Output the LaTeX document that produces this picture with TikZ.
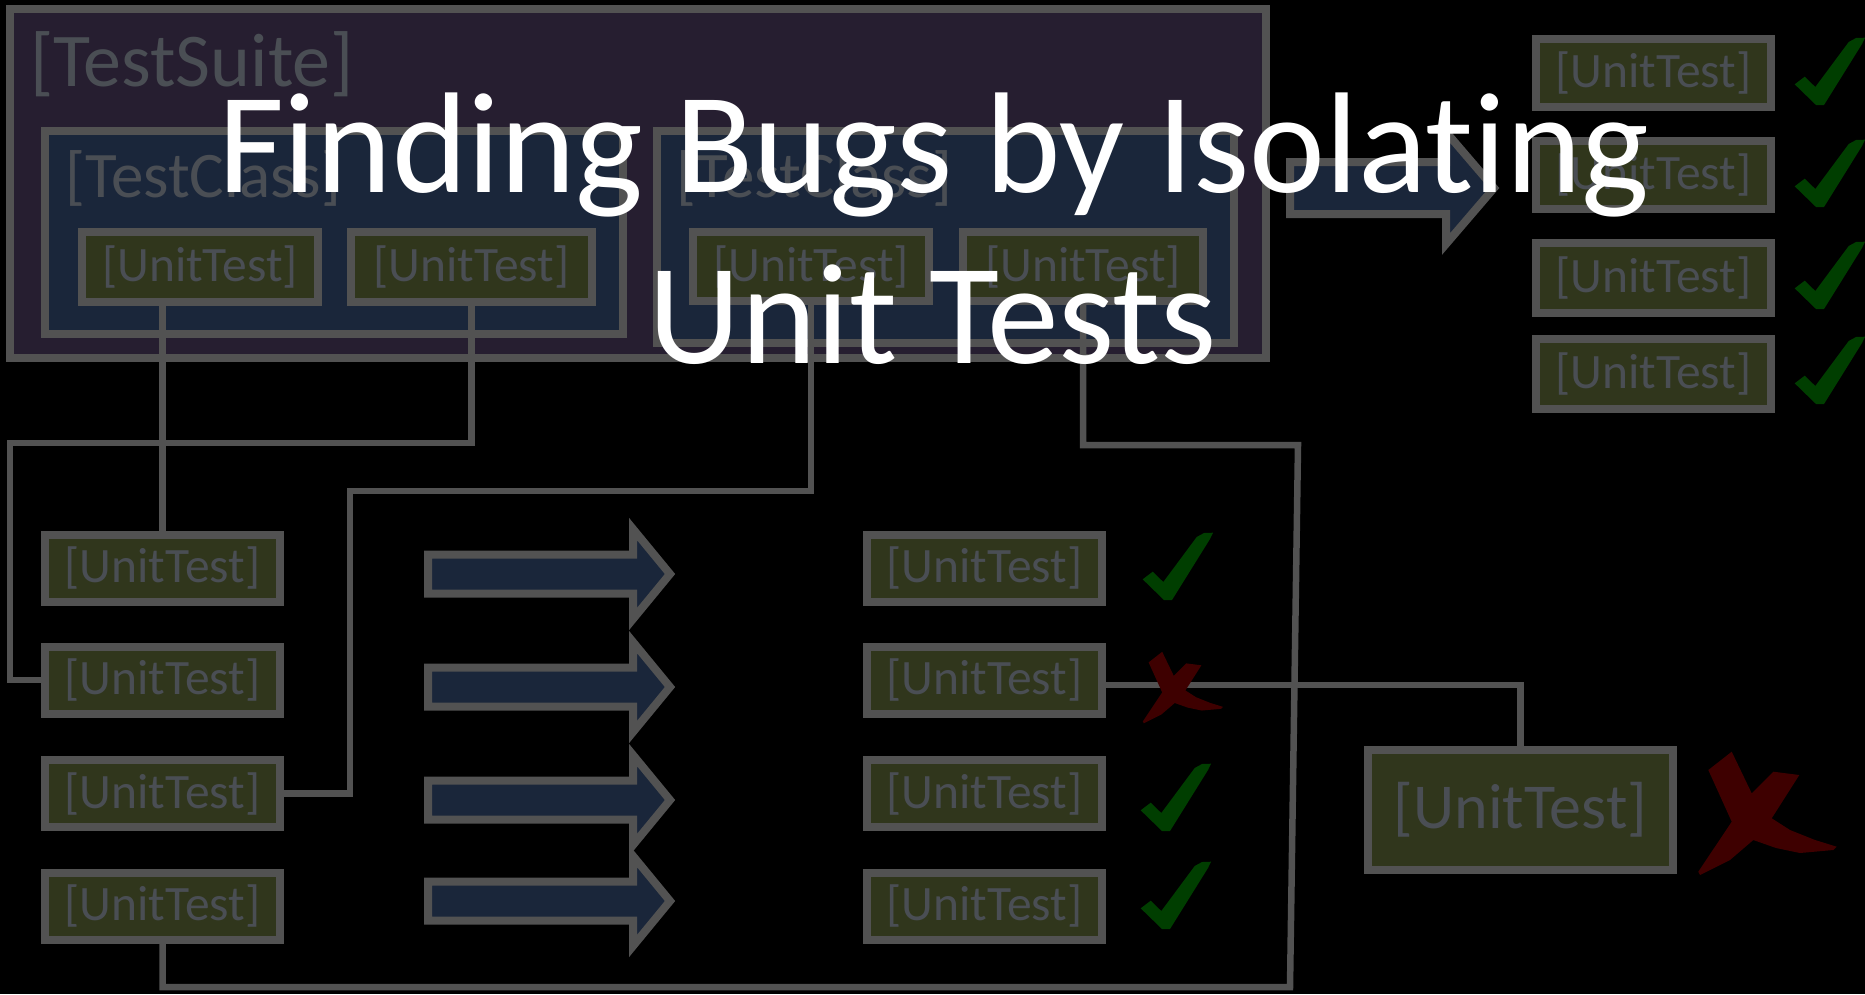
\documentclass[tikz,border=0pt]{standalone}
\usepackage{fontspec}
\setmainfont{Carlito}[Ligatures={NoCommon,NoRequired,NoContextual}]
\definecolor{edge}{RGB}{82,82,82}
\definecolor{suitefill}{RGB}{38,30,48}
\definecolor{classfill}{RGB}{26,38,58}
\definecolor{utfill}{RGB}{48,54,28}
\definecolor{labelgray}{RGB}{74,78,84}
\definecolor{passgreen}{RGB}{0,62,0}
\definecolor{failred}{RGB}{62,0,0}
\tikzset{
  box/.style={draw=edge, line width=8pt, inner sep=0pt},
  suitebox/.style={box, fill=suitefill},
  classbox/.style={box, fill=classfill},
  ut/.style={box, fill=utfill, text=labelgray,
    font=\fontsize{49.5}{52}\selectfont,
    minimum width=235pt, minimum height=67pt},
  bigut/.style={box, fill=utfill, text=labelgray,
    font=\fontsize{64}{68}\selectfont,
    minimum width=305pt, minimum height=120pt},
  wire/.style={draw=edge, line width=6.5pt},
  fatarrow/.style={draw=edge, line width=8pt, fill=classfill},
  heading/.style={text=white, inner sep=0pt, anchor=base,
    font=\fontsize{143.5}{150}\selectfont},
  pics/okmark/.style={code={
    \fill[passgreen] (12.7,59.3) -- (22.7,51.7) -- (33.3,62) -- (66.7,17)
      -- (74,13) -- (83,12.7) -- (80,19) -- (42,80) -- (34,80) -- cycle;}},
  pics/failmark/.style={code={
    \fill[failred] (18.3,30) -- (41.7,11.7) -- (61.7,53.3) -- (83.3,31.7)
      -- (109.3,35) -- (81.7,78.3) -- (100,90) -- (125,100) -- (146.7,106.7)
      -- (143.3,110) -- (110,113) -- (86,108) -- (63.3,100) -- (40,120)
      -- (10,135) -- (8.3,131.7) -- (41.7,81.7) -- cycle;}}
}
\begin{document}
\begin{tikzpicture}[x=1pt,y=-1pt]
\fill[black] (0,0) rectangle (1865,994);
\useasboundingbox (0,0) rectangle (1865,994);

% containers
\node[suitebox, minimum width=1256pt, minimum height=349pt] (suite) at (638,183.5) {};
\node[text=labelgray, inner sep=0pt, anchor=base west,
      font=\fontsize{76}{80}\selectfont] (suitelbl) at (30,86) {[TestSuite]};
\node[classbox, minimum width=578pt, minimum height=203pt] (classA) at (334,232.5) {};
\node[classbox, minimum width=577pt, minimum height=212pt] (classB) at (945.5,237) {};
\node[text=labelgray, inner sep=0pt, anchor=base west,
      font=\fontsize{65}{68}\selectfont] (classAlbl) at (65,197) {[TestClass]};
\node[text=labelgray, inner sep=0pt, anchor=base west,
      font=\fontsize{65}{68}\selectfont] (classBlbl) at (676,197) {[TestClass]};

% unit tests inside the classes
\node[ut, minimum width=236pt, minimum height=70pt] (ua) at (200,267) {[UnitTest]};
\node[ut, minimum width=241pt, minimum height=70pt] (ub) at (471.5,267) {[UnitTest]};
\node[ut, minimum width=236pt, minimum height=69pt] (uc) at (811,266.5) {[UnitTest]};
\node[ut, minimum width=240pt, minimum height=69pt] (ud) at (1083,266.5) {[UnitTest]};

% isolated tests, left column
\node[ut] (l1) at (162.5,568) {[UnitTest]};
\node[ut] (l2) at (162.5,680) {[UnitTest]};
\node[ut] (l3) at (162.5,793.5) {[UnitTest]};
\node[ut] (l4) at (162.5,906) {[UnitTest]};

% results column
\node[ut] (m1) at (984.5,568) {[UnitTest]};
\node[ut] (m2) at (984.5,680) {[UnitTest]};
\node[ut] (m3) at (984.5,793.5) {[UnitTest]};
\node[ut] (m4) at (984.5,906) {[UnitTest]};

% top right column
\node[ut, minimum height=68pt] (r1) at (1653.5,72.5) {[UnitTest]};
\node[ut, minimum height=68pt] (r2) at (1653.5,175) {[UnitTest]};
\node[ut, minimum height=70pt] (r3) at (1653.5,278) {[UnitTest]};
\node[ut, minimum height=70pt] (r4) at (1653.5,374) {[UnitTest]};

% failing test singled out
\node[bigut] (big) at (1520.5,810) {[UnitTest]};

% bend points of the wiring
\coordinate (bendB) at (10,443);
\coordinate (bendC) at (350,491);
\coordinate (bendD1) at (1298,445);
\coordinate (bendD2) at (1290,987);

% wiring
\draw[wire] (ua.south -| l1.north) -- (l1.north);
\draw[wire] (ub.south) |- (bendB) |- (l2.west);
\draw[wire] (uc.south) |- (bendC) |- (l3.east);
\draw[wire] (ud.south) |- (bendD1) -- (bendD2) -| (l4.south);
\draw[wire] ([yshift=-5pt]m2.east) -| (big.north);

% run arrows
\foreach \c in {574,687,800,901}{
  \draw[fatarrow] (428,\c-19.5) -- (633,\c-19.5) -- (633,\c-45) -- (670,\c)
    -- (633,\c+45) -- (633,\c+19.5) -- (428,\c+19.5) -- cycle;
}
\draw[fatarrow] (1290,162) -- (1446,162) -- (1446,132) -- (1494,188)
  -- (1446,244) -- (1446,214) -- (1290,214) -- cycle;

% results
\pic at (1130,520) {okmark};
\pic[scale=0.58] at (1138,645) {failmark};
\pic at (1128,751) {okmark};
\pic at (1128,849) {okmark};
\pic at (1690,740) {failmark};
\pic at (1782,25) {okmark};
\pic at (1782,127) {okmark};
\pic at (1782,229) {okmark};
\pic at (1782,324) {okmark};

% title
\node[heading] (titleA) at (934,192) {Finding Bugs by Isolating};
\node[heading] (titleB) at (933,363) {Unit Tests};
\end{tikzpicture}
\end{document}
